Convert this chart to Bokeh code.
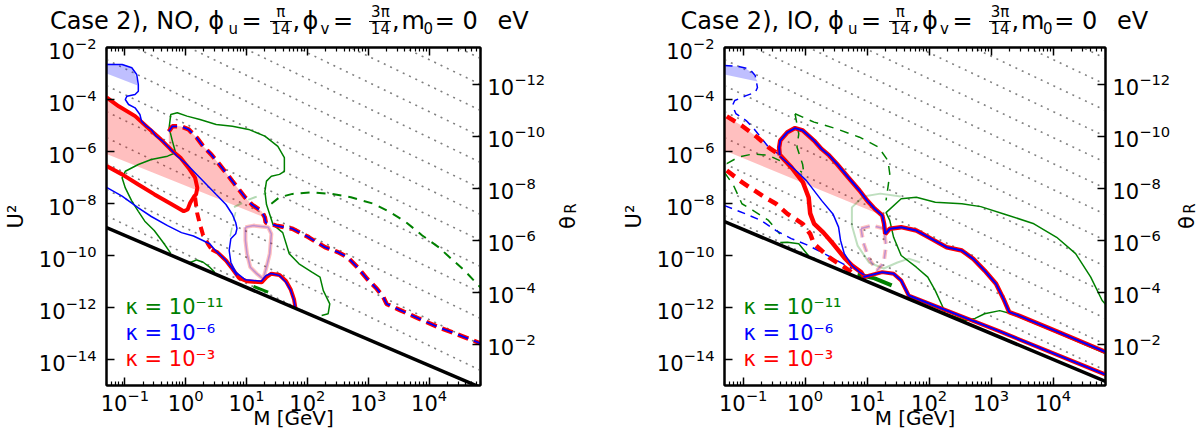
import numpy as np
from math import pi
from bokeh.plotting import figure
from bokeh.layouts import row, column
from bokeh.models import (Range1d, LogAxis, LogScale, FixedTicker, Label, Div,
                          CustomJSTickFormatter)
from bokeh.embed import file_html
from bokeh.resources import INLINE

FONT = "DejaVu Sans"
GREEN, BLUE, RED = "#008000", "#0000ff", "#ff0000"

# ---------------- axes ----------------
M_MIN, M_MAX = 0.05, 7.0e4
U2_MIN, U2_MAX = 1e-15, 1e-2
THETA_BOTTOM, THETA_TOP = 10 ** -0.423, 10 ** -13.423
m_ticks = [1e-1, 1e0, 1e1, 1e2, 1e3, 1e4]
m_minor = [k * 10.0 ** e for e in range(-2, 5) for k in range(2, 10)]
u2_ticks = [1e-14, 1e-12, 1e-10, 1e-8, 1e-6, 1e-4, 1e-2]
theta_ticks = [1e-12, 1e-10, 1e-8, 1e-6, 1e-4, 1e-2]

kappa_labels = ["κ = 10⁻¹¹", "κ = 10⁻⁶", "κ = 10⁻³"]
kappa_colors = [GREEN, BLUE, RED]

# dotted theta_R guide lines: log10 U^2 at M_MIN and at M_MAX
guide_lgU2_left = [4.53, 3.53, 2.53, 1.53, 0.53, -0.47, -1.47, -2.47, -3.47,
                   -4.47, -5.47, -6.47, -7.47, -8.47]
guide_lgU2_right = [-2.42, -3.42, -4.42, -5.42, -6.42, -7.42, -8.42, -9.42,
                    -10.42, -11.42, -12.42, -13.42, -14.42, -15.42]

# seesaw lines (M, U^2)
seesaw_M = [0.05, 7.0e4]
no_seesaw_U2 = [1.18e-9, 8.43e-16]
io_seesaw_U2 = [2.0e-9, 1.43e-15]

# ---------------- NO panel curves (log10 M, log10 U^2) ----------------
no_bluefill_lgM = [-1.30, -1.01, -0.90, -0.84, -0.80, -0.79, -1.30]
no_bluefill_lgU = [-2.62, -2.65, -2.77, -2.96, -3.23, -3.46, -3.00]

no_pink_lgM = [-1.30, -1.10, -0.83, -0.62, -0.405, -0.277, -0.277, -0.218, -0.085, 0.048,
               0.182, 0.288, 0.422, 0.555, 0.662, 0.768, 0.875, 0.982, 1.088, 1.248,
               1.302, -1.30]
no_pink_lgU = [-3.92, -4.26, -4.64, -5.09, -5.54, -5.85, -5.23, -5.03, -5.03, -5.15,
               -5.47, -5.80, -6.12, -6.50, -6.82, -7.14, -7.46, -7.78, -8.04, -8.30,
               -8.54, -6.10]

no_blue_up_lgM = [-1.30, -1.045, -0.885, -0.805, -0.778, -0.778, -0.832, -0.965, -0.992,
                  -0.938, -0.832, -0.752, -0.725, -0.645, -0.565, -0.485, -0.378, -0.245,
                  -0.138, 0.022, 0.182, 0.342, 0.502, 0.662, 0.768, 0.822, 0.843, 0.822,
                  0.742, 0.715, 0.742, 0.822, 0.982, 1.243, 1.323, 1.403, 1.542, 1.648,
                  1.728, 1.782, 1.803]
no_blue_up_lgU = [-2.654, -2.654, -2.781, -3.038, -3.423, -3.681, -3.808, -3.873, -4.0,
                  -4.192, -4.319, -4.577, -4.835, -5.027, -5.154, -5.412, -5.604, -5.923,
                  -6.181, -6.5, -6.885, -7.269, -7.654, -8.038, -8.423, -8.731, -8.962,
                  -9.165, -9.358, -9.808, -10.258, -10.642, -10.935, -10.988, -10.769,
                  -10.692, -10.769, -11.027, -11.346, -11.731, -12.0]

no_blue_low_lgM = [-1.30, -1.045, -0.778, -0.565, -0.298, -0.069, 0.128, 0.395, 0.475,
                   0.523, 0.662, 0.768, 0.843]
no_blue_low_lgU = [-7.38, -7.72, -8.17, -8.50, -8.85, -9.12, -9.25, -9.55, -9.77, -9.88,
                   -10.19, -10.51, -10.77]

no_red_v_lgM = [-1.30, -1.10, -0.83, -0.62, -0.405, -0.245, -0.085, 0.048, 0.155, 0.192,
                0.171, 0.139, 0.075, 0.032, -0.032, -0.245, -0.512, -0.778, -1.045, -1.30]
no_red_v_lgU = [-3.92, -4.26, -4.64, -5.09, -5.54, -5.92, -6.24, -6.63, -7.01, -7.40,
                -7.65, -7.73, -7.97, -8.23, -8.30, -8.01, -7.65, -7.27, -6.88, -6.56]

no_red_dash_lgM = [0.155, 0.187, 0.235, 0.283, 0.363, 0.427]
no_red_dash_lgU = [-7.77, -8.35, -8.81, -9.19, -9.54, -9.77]

no_red_low_lgM = [0.427, 0.523, 0.662, 0.768, 0.875, 1.008, 1.248, 1.328, 1.408, 1.542,
                  1.648, 1.728, 1.782, 1.803]
no_red_low_lgU = [-9.77, -9.88, -10.19, -10.51, -10.86, -10.99, -11.03, -10.83, -10.70,
                  -10.75, -10.98, -11.32, -11.70, -12.0]

no_rb_dash_lgM = [-0.277, -0.218, -0.085, 0.048, 0.182, 0.288, 0.422, 0.555, 0.662, 0.768,
                  0.875, 0.982, 1.088, 1.248, 1.302, 1.315, 1.488, 1.755, 2.022, 2.288,
                  2.502, 2.662, 2.822, 2.982, 3.142, 3.248, 3.302, 3.515, 3.835, 4.155,
                  4.475, 4.845]
no_rb_dash_lgU = [-5.23, -5.03, -5.03, -5.15, -5.47, -5.80, -6.12, -6.50, -6.82, -7.14,
                  -7.46, -7.78, -8.04, -8.30, -8.54, -8.73, -8.85, -8.97, -9.30, -9.68,
                  -9.87, -10.07, -10.45, -10.90, -11.28, -11.60, -11.86, -12.09, -12.43,
                  -12.76, -13.04, -13.38]

no_green_lgM = [-0.245, -0.357, -0.517, -0.672, -0.778, -0.885, -0.992, -1.045, -0.992,
                -0.778, -0.565, -0.298, -0.165, -0.218, -0.272, -0.245, -0.138, 0.022,
                0.235, 0.502, 0.768, 1.035, 1.302, 1.515, 1.622, 1.622, 1.542, 1.408,
                1.328, 1.302, 1.328, 1.382, 1.435, 1.595, 1.702, 1.862, 2.075, 2.208,
                2.262, 2.368, 2.342, 2.235]
no_green_lgU = [-9.92, -9.54, -9.04, -8.68, -8.30, -7.91, -7.40, -7.01, -6.76, -6.50,
                -6.31, -6.18, -6.05, -5.60, -5.09, -4.58, -4.51, -4.64, -4.77, -4.96,
                -5.03, -5.15, -5.41, -5.80, -6.24, -6.76, -6.88, -6.95, -7.14, -7.53,
                -8.04, -8.42, -8.81, -9.12, -9.93, -10.32, -10.64, -10.83, -11.35,
                -11.86, -12.24, -12.31]

no_green_arc_lgM = [0.075, 0.182, 0.288, 0.395, 0.475]
no_green_arc_lgU = [-10.27, -10.17, -10.26, -10.45, -10.64]
no_green_bit_lgM = [1.115, 1.355]
no_green_bit_lgU = [-11.19, -11.41]

no_gdash_lgM = [1.408, 1.542, 1.755, 2.075, 2.395, 2.715, 3.088, 3.355, 3.622, 3.888,
                4.155, 4.368, 4.582, 4.845]
no_gdash_lgU = [-8.01, -7.76, -7.63, -7.57, -7.63, -7.76, -8.01, -8.33, -8.72, -9.23,
                -9.68, -10.13, -10.58, -11.23]
no_gpale_lgM = [0.795, 1.035, 1.328]
no_gpale_lgU = [-8.14, -7.85, -7.60]
no_gpale2_lgM = [0.731, 0.779, 0.827]
no_gpale2_lgU = [-9.27, -8.73, -8.27]

no_pale_lgM = [0.982, 1.115, 1.355, 1.408, 1.382, 1.328, 1.275, 1.168, 1.062, 1.008,
               0.982, 0.982]
no_pale_lgU = [-8.91, -8.85, -8.91, -9.17, -9.93, -10.45, -10.90, -10.70, -10.45, -9.93,
               -9.42, -8.91]

# ---------------- IO panel curves (log10 M, log10 U^2) ----------------
io_bluefill_lgM = [-1.30, -1.08, -0.952, -0.842, -0.769, -1.30]
io_bluefill_lgU = [-2.69, -2.73, -2.82, -3.0, -3.31, -3.04]

io_pink_lgM = [-1.30, -1.026, -0.769, -0.585, -0.402, -0.402, -0.286, -0.163, -0.040,
               0.143, 0.264, 0.387, 0.510, 0.693, 0.877, 0.998, 1.121, 1.244, -1.30]
io_pink_lgU = [-4.62, -5.0, -5.46, -5.85, -5.96, -5.58, -5.26, -5.10, -5.19, -5.58,
               -5.90, -6.15, -6.47, -6.99, -7.50, -7.88, -8.20, -8.46, -5.96]

io_blue_dash1_lgM = [-1.30, -1.08, -0.897, -0.806, -0.769, -0.806, -0.952, -1.136, -1.173,
                     -1.118, -0.952, -0.842, -0.714, -0.585, -0.439]
io_blue_dash1_lgU = [-2.69, -2.73, -2.82, -3.08, -3.54, -3.73, -3.85, -4.04, -4.23,
                     -4.54, -4.81, -5.08, -5.46, -5.85, -6.08]

io_red_dash1_lgM = [-1.264, -1.026, -0.769, -0.585, -0.402]
io_red_dash1_lgU = [-4.65, -5.0, -5.46, -5.85, -6.15]

io_red_thick_lgM = [-0.402, -0.218, -0.035, 0.057, 0.081, 0.143, 0.295, 0.448, 0.631,
                    0.754, 0.906, 0.974]
io_red_thick_lgU = [-6.15, -6.62, -7.19, -7.77, -8.38, -8.77, -9.12, -9.54, -10.08,
                    -10.38, -10.65, -10.90]

io_blue_thin_lgM = [-0.402, -0.218, 0.020, 0.264, 0.448, 0.539, 0.571, 0.631, 0.754,
                    0.877, 1.029]
io_blue_thin_lgU = [-6.19, -6.58, -7.12, -7.88, -8.40, -8.91, -9.42, -9.93, -10.38,
                    -10.64, -10.85]

io_contour_lgM = [-0.41, -0.420, -0.402, -0.286, -0.163, -0.040, 0.143, 0.264, 0.387,
                  0.510, 0.693, 0.877, 0.998, 1.121, 1.244, 1.273, 1.292, 1.365, 1.549,
                  1.794, 2.038, 2.282, 2.528, 2.712, 2.895, 3.079, 3.200, 3.292, 3.446,
                  4.057, 4.846]
io_contour_lgU = [-6.15, -5.85, -5.58, -5.26, -5.10, -5.19, -5.58, -5.90, -6.15, -6.47,
                  -6.99, -7.50, -7.88, -8.20, -8.46, -8.78, -9.17, -8.97, -8.91, -9.04,
                  -9.36, -9.68, -9.81, -10.13, -10.58, -11.09, -11.67, -12.18, -12.31,
                  -12.92, -13.71]

io_contour2_lgM = [0.938, 1.244, 1.427, 1.549, 1.671, 3.139, 4.846]
io_contour2_lgU = [-10.83, -10.64, -10.70, -10.96, -11.54, -12.92, -14.58]

io_green_long_lgM = [2.253, 2.222, 2.099, 1.978, 1.794, 1.549, 1.427, 1.365, 1.305, 1.549,
                     1.794, 2.099, 2.528, 2.833, 3.231, 3.690, 4.057, 4.363, 4.607, 4.791,
                     4.846]
io_green_long_lgU = [-12.19, -11.99, -11.35, -10.83, -10.45, -10.0, -9.30, -8.65, -8.35,
                     -7.82, -7.76, -7.95, -8.01, -8.12, -8.42, -8.78, -9.30, -9.93, -10.83,
                     -11.73, -11.88]
io_green_low_lgM = [2.253, 2.589, 2.741, 2.895, 3.139, 3.323, 4.057, 4.846]
io_green_low_lgU = [-12.22, -12.5, -12.42, -12.24, -12.12, -12.24, -12.96, -13.77]
io_green_hump_lgM = [-0.402, -0.286, -0.103, 0.051]
io_green_hump_lgU = [-9.50, -9.49, -9.55, -10.0]
io_green_bit_lgM = [0.846, 1.121, 1.396]
io_green_bit_lgU = [-10.73, -10.88, -11.15]

io_gdash_loop_lgM = [-0.163, 0.143, 0.510, 0.877, 1.182, 1.336, 1.365, 1.336, 1.305]
io_gdash_loop_lgU = [-4.55, -4.87, -5.13, -5.45, -5.83, -6.35, -6.86, -7.37, -7.88]
io_gdash_down_lgM = [-0.163, -0.103, -0.132, -0.040, -0.02, -0.08]
io_gdash_down_lgU = [-4.55, -5.32, -5.83, -6.50, -6.86, -6.75]
io_gdash_left_lgM = [-1.264, -1.08, -0.837, -0.591, -0.408]
io_gdash_left_lgU = [-6.47, -6.22, -6.09, -6.15, -6.35]
io_gdash_low_lgM = [-1.30, -1.154, -1.020, -0.837, -0.591, -0.408]
io_gdash_low_lgU = [-6.81, -7.31, -8.01, -8.27, -8.65, -9.17]

io_blue_dash2_lgM = [-1.30, -0.958, -0.714, -0.470, -0.224, 0.020, 0.264, 0.510, 0.754]
io_blue_dash2_lgU = [-8.08, -8.40, -8.65, -9.04, -9.35, -9.58, -9.87, -10.19, -10.50]

io_red_dash2_lgM = [-1.264, -1.020, -0.653, -0.470, -0.286, -0.040, 0.081, 0.143, 0.387,
                    0.631, 0.754]
io_red_dash2_lgU = [-6.73, -7.18, -7.76, -8.01, -8.40, -8.78, -9.17, -9.55, -10.07,
                    -10.45, -10.65]

io_pale_green_lgM = [1.543, 1.213, 0.938, 0.754, 0.754, 0.846, 1.029, 1.268, 1.488, 1.671,
                     1.855]
io_pale_green_lgU = [-7.73, -7.62, -7.73, -8.15, -8.85, -9.62, -10.27, -10.50, -10.27,
                     -10.12, -10.27]
io_pale_rb_lgM = [0.901, 1.084, 1.268, 1.305, 1.268, 1.158, 1.029, 0.938, 0.901]
io_pale_rb_lgU = [-8.96, -8.85, -8.96, -9.62, -10.27, -10.58, -10.12, -9.50, -8.96]

# ---------------- page layout (pixels) ----------------
PAGE_W, PAGE_H = 1201, 439
TITLE_H = 36
TOP_B, BOT_B = 11, 54
PANEL_H = PAGE_H - TITLE_H          # 403
FRAME_TOP = TITLE_H + TOP_B         # 47
FRAME_BOT = PAGE_H - BOT_B          # 385
FRAME_W = 384
P1_LEFT, P1_RIGHT = 99, 65
P2_LEFT, P2_RIGHT = 112, 65
P1_W = P1_LEFT + FRAME_W + P1_RIGHT                  # 548
TH1_W = 612 - P1_W                                   # 64
P2_W = P2_LEFT + FRAME_W + P2_RIGHT                  # 561
TH2_W = PAGE_W - 612 - P2_W                          # 28

# title pieces: (text, x in page px, baseline y in page px, font px, align)
# a text of "|" marks a fraction bar
io_title = [("Case 2), IO, ϕ", 680.5, 29.5, 24, "left"),
            ("u", 848, 34.5, 15, "left"), ("=", 861, 29.5, 24, "left"),
            ("π", 900.3, 18.0, 15, "center"), ("|", 900.3, 21.5, 22, "center"),
            ("14", 900.3, 34.8, 15, "center"),
            (",", 912, 29.5, 24, "left"), ("ϕ", 922, 29.5, 24, "left"),
            ("v", 940, 34.5, 15, "left"), ("=", 952.5, 29.5, 24, "left"),
            ("3π", 1000, 18.0, 15, "center"), ("|", 1000, 21.5, 22, "center"),
            ("14", 1000, 34.8, 15, "center"),
            (",", 1011.5, 29.5, 24, "left"), ("m", 1021, 29.5, 24, "left"),
            ("0", 1043, 34.5, 15, "left"), ("=", 1054.3, 29.5, 24, "left"),
            ("0", 1082, 29.5, 24, "left"), ("eV", 1117, 29.5, 24, "left")]
no_title = [("Case 2), NO, ϕ", 50.0, 29.5, 24, "left")] + \
           [(t, x - 619.6, y, s, a) for (t, x, y, s, a) in io_title[1:]]


def pts(lgm, lgu):
    return 10.0 ** np.asarray(lgm, float), 10.0 ** np.asarray(lgu, float)


def add_text(p, text, x, y, size, color="black", align="left",
             baseline="alphabetic", angle=0.0, dx=0, dy=0):
    p.add_layout(Label(x=x, y=y, x_offset=dx, y_offset=dy, text=text,
                       text_font=FONT, text_font_size=f"{size}px",
                       text_color=color, text_align=align,
                       text_baseline=baseline, angle=angle))


def title_div(pieces, x0, width, height):
    parts = []
    for text, x, y, size, align in pieces:
        if text == "|":
            parts.append(f'<div style="position:absolute;left:{x - x0 - size / 2:.1f}px;'
                         f'top:{y - 0.6:.1f}px;width:{size}px;height:0;'
                         f'border-top:1.3px solid #000;"></div>')
            continue
        top = y - 0.846 * size
        shift = "transform:translateX(-50%);" if align == "center" else ""
        parts.append(f'<span style="position:absolute;left:{x - x0:.1f}px;top:{top:.1f}px;'
                     f'font-size:{size}px;line-height:1;white-space:nowrap;{shift}">'
                     f'{text}</span>')
    html = (f'<div style="position:relative;width:{width}px;height:{height}px;'
            f'font-family:\'{FONT}\',sans-serif;color:#000;background:#fff;">'
            + "".join(parts) + "</div>")
    return Div(text=html, width=width, height=height, margin=0)


def strip(width, height, x0, y_top, y_bot, b_top=0, b_bot=0):
    """Blank canvas; its frame spans page pixels x0..x0+width, y_top..y_bot."""
    s = figure(width=width, height=height, x_range=Range1d(x0, x0 + width),
               y_range=Range1d(-y_bot, -y_top), x_axis_location=None,
               y_axis_location=None, toolbar_location=None, title_location=None,
               output_backend="svg", min_border=0, min_border_top=b_top,
               min_border_bottom=b_bot, outline_line_color=None)
    s.xgrid.visible = False
    s.ygrid.visible = False
    s.background_fill_color = "white"
    s.border_fill_color = "white"
    return s


def style_axis(ax, size=21, standoff=9):
    ax.axis_line_color = "black"
    ax.axis_line_width = 2
    ax.major_tick_in = 8
    ax.major_tick_out = 0
    ax.minor_tick_in = 4
    ax.minor_tick_out = 0
    ax.major_tick_line_color = "black"
    ax.minor_tick_line_color = "black"
    ax.major_tick_line_width = 1.5
    ax.minor_tick_line_width = 1.2
    ax.major_label_text_font = FONT
    ax.major_label_text_font_size = f"{size}px"
    ax.major_label_text_color = "black"
    ax.major_label_standoff = standoff
    ax.axis_label_text_font = FONT
    ax.axis_label_text_font_style = "normal"
    ax.axis_label_text_color = "black"


def make_panel(width, border_left, border_right, seesaw_U2):
    p = figure(width=width, height=PANEL_H, x_axis_type="log", y_axis_type="log",
               x_range=Range1d(M_MIN, M_MAX), y_range=Range1d(U2_MIN, U2_MAX),
               output_backend="svg", toolbar_location=None, title_location=None,
               min_border_left=border_left, min_border_right=border_right,
               min_border_top=TOP_B, min_border_bottom=BOT_B)
    p.xgrid.visible = False
    p.ygrid.visible = False
    p.outline_line_color = "black"
    p.outline_line_width = 2
    p.background_fill_color = "white"
    p.border_fill_color = "white"
    p.extra_y_ranges = {"theta": Range1d(THETA_BOTTOM, THETA_TOP)}
    p.extra_y_scales = {"theta": LogScale()}

    bottom = p.below[0]
    left = p.left[0]
    bottom.ticker = FixedTicker(ticks=m_ticks, minor_ticks=m_minor)
    left.ticker = FixedTicker(ticks=u2_ticks, minor_ticks=[])
    top = LogAxis(ticker=FixedTicker(ticks=m_ticks, minor_ticks=m_minor),
                  formatter=CustomJSTickFormatter(code="return ''"))
    right = LogAxis(y_range_name="theta",
                    ticker=FixedTicker(ticks=theta_ticks, minor_ticks=[]))
    style_axis(bottom, 21, 3)
    style_axis(left, 21, 10)
    style_axis(top, 0, 0)
    style_axis(right, 21, 7)
    top.axis_label_standoff = 0
    bottom.axis_label = "M [GeV]"
    bottom.axis_label_text_font_size = "20px"
    bottom.axis_label_standoff = -8
    left.axis_label = "U²"
    left.axis_label_text_font_size = "21px"
    left.axis_label_standoff = 8
    p.add_layout(top, "above")
    p.add_layout(right, "right")

    # dotted theta_R guide lines, kept above the seesaw line
    lgm = np.linspace(np.log10(M_MIN), np.log10(M_MAX), 500)
    frac = (lgm - lgm[0]) / (lgm[-1] - lgm[0])
    s0, s1 = np.log10(seesaw_U2[0]), np.log10(seesaw_U2[1])
    lgs = s0 + (s1 - s0) * frac
    for a, b in zip(guide_lgU2_left, guide_lgU2_right):
        lgu = a + (b - a) * frac
        keep = lgu > lgs + 0.03
        if keep.sum() > 1:
            p.line(10 ** lgm[keep], 10 ** lgu[keep], line_color="#808080",
                   line_width=1.6, line_dash="2 5")

    # kappa legend (inside the frame)
    for text, color, dy in zip(kappa_labels, kappa_colors, [78.3, 52.7, 26.7]):
        add_text(p, text, M_MIN, U2_MIN, 21, color=color, dx=19, dy=dy)
    return p


# ======================= NO panel =======================
p1 = make_panel(P1_W, P1_LEFT, P1_RIGHT, no_seesaw_U2)

p1.patch(*pts(no_pink_lgM, no_pink_lgU), fill_color=RED, fill_alpha=0.25, line_color=None)
p1.patch(*pts(no_bluefill_lgM, no_bluefill_lgU), fill_color=BLUE, fill_alpha=0.25,
         line_color=None)
p1.line(*pts(no_pale_lgM, no_pale_lgU), line_color=RED, line_alpha=0.25, line_width=4)
p1.line(*pts(no_pale_lgM, no_pale_lgU), line_color=BLUE, line_alpha=0.25, line_width=1.5)
p1.line(*pts(no_gpale_lgM, no_gpale_lgU), line_color=GREEN, line_alpha=0.3, line_width=2,
        line_dash="9 7")
p1.line(*pts(no_gpale2_lgM, no_gpale2_lgU), line_color=GREEN, line_alpha=0.3, line_width=1.5,
        line_dash="9 7")
p1.line(*pts(no_green_lgM, no_green_lgU), line_color=GREEN, line_width=1.5)
p1.line(*pts(no_green_arc_lgM, no_green_arc_lgU), line_color=GREEN, line_width=1.5)
p1.line(*pts(no_green_bit_lgM, no_green_bit_lgU), line_color=GREEN, line_width=3)
p1.line(*pts(no_gdash_lgM, no_gdash_lgU), line_color=GREEN, line_width=2, line_dash="9 7")
p1.line(*pts(no_red_v_lgM, no_red_v_lgU), line_color=RED, line_width=4)
p1.line(*pts(no_red_dash_lgM, no_red_dash_lgU), line_color=RED, line_width=4, line_dash="9 6")
p1.line(*pts(no_red_low_lgM, no_red_low_lgU), line_color=RED, line_width=4)
p1.line(*pts(no_blue_up_lgM, no_blue_up_lgU), line_color=BLUE, line_width=1.5)
p1.line(*pts(no_blue_low_lgM, no_blue_low_lgU), line_color=BLUE, line_width=1.5)
p1.line(*pts(no_rb_dash_lgM, no_rb_dash_lgU), line_color=RED, line_width=4.5, line_dash="11 6")
p1.line(*pts(no_rb_dash_lgM, no_rb_dash_lgU), line_color=BLUE, line_width=1.8, line_dash="11 6")
p1.line(seesaw_M, no_seesaw_U2, line_color="black", line_width=3.5)

# ======================= IO panel =======================
p2 = make_panel(P2_W, P2_LEFT, P2_RIGHT, io_seesaw_U2)

p2.patch(*pts(io_pink_lgM, io_pink_lgU), fill_color=RED, fill_alpha=0.25, line_color=None)
p2.patch(*pts(io_bluefill_lgM, io_bluefill_lgU), fill_color=BLUE, fill_alpha=0.25,
         line_color=None)
p2.line(*pts(io_pale_green_lgM, io_pale_green_lgU), line_color=GREEN, line_alpha=0.25,
        line_width=2)
p2.line(*pts(io_pale_rb_lgM, io_pale_rb_lgU), line_color=RED, line_alpha=0.25, line_width=4,
        line_dash="9 6")
p2.line(*pts(io_pale_rb_lgM, io_pale_rb_lgU), line_color=BLUE, line_alpha=0.25,
        line_width=1.5, line_dash="9 6")
p2.line(*pts(io_green_long_lgM, io_green_long_lgU), line_color=GREEN, line_width=1.5)
p2.line(*pts(io_green_low_lgM, io_green_low_lgU), line_color=GREEN, line_width=1.5)
p2.line(*pts(io_green_hump_lgM, io_green_hump_lgU), line_color=GREEN, line_width=1.5)
p2.line(*pts(io_green_bit_lgM, io_green_bit_lgU), line_color=GREEN, line_width=4)
for lx, ly in [(io_gdash_loop_lgM, io_gdash_loop_lgU), (io_gdash_down_lgM, io_gdash_down_lgU),
               (io_gdash_left_lgM, io_gdash_left_lgU), (io_gdash_low_lgM, io_gdash_low_lgU)]:
    p2.line(*pts(lx, ly), line_color=GREEN, line_width=1.5, line_dash="9 7")
p2.line(*pts(io_blue_dash1_lgM, io_blue_dash1_lgU), line_color=BLUE, line_width=1.5,
        line_dash="8 6")
p2.line(*pts(io_blue_dash2_lgM, io_blue_dash2_lgU), line_color=BLUE, line_width=1.5,
        line_dash="8 6")
p2.line(*pts(io_red_dash1_lgM, io_red_dash1_lgU), line_color=RED, line_width=4.5,
        line_dash="10 7")
p2.line(*pts(io_red_dash2_lgM, io_red_dash2_lgU), line_color=RED, line_width=4.5,
        line_dash="10 7")
p2.line(*pts(io_red_thick_lgM, io_red_thick_lgU), line_color=RED, line_width=4.5)
p2.line(*pts(io_blue_thin_lgM, io_blue_thin_lgU), line_color=BLUE, line_width=1.5)
p2.line(*pts(io_contour_lgM, io_contour_lgU), line_color=RED, line_width=4.5)
p2.line(*pts(io_contour_lgM, io_contour_lgU), line_color=BLUE, line_width=2)
p2.line(*pts(io_contour2_lgM, io_contour2_lgU), line_color=RED, line_width=4)
p2.line(*pts(io_contour2_lgM, io_contour2_lgU), line_color=BLUE, line_width=2)
p2.line(seesaw_M, io_seesaw_U2, line_color="black", line_width=3.5)

# ======================= titles and theta_R labels =======================
t1 = title_div(no_title, 0, 612, TITLE_H)
t2 = title_div(io_title, 612, PAGE_W - 612, TITLE_H)

# theta strips share the panels' top/bottom borders, so their frame is the plot frame
th1 = strip(TH1_W, PANEL_H, P1_W, FRAME_TOP, FRAME_BOT, TOP_B, BOT_B)
th2 = strip(TH2_W, PANEL_H, 612 + P2_W, FRAME_TOP, FRAME_BOT, TOP_B, BOT_B)
for strip_fig, xb in ((th1, 567), (th2, 1186)):
    add_text(strip_fig, "θ", xb, -222, 21, align="center", angle=pi / 2)
    add_text(strip_fig, "R", xb + 3, -208, 15, align="center", angle=pi / 2)

layout = column(row(t1, t2), row(p1, th1, p2, th2))
with open("out.html", "w") as f:
    f.write(file_html(layout, INLINE))
